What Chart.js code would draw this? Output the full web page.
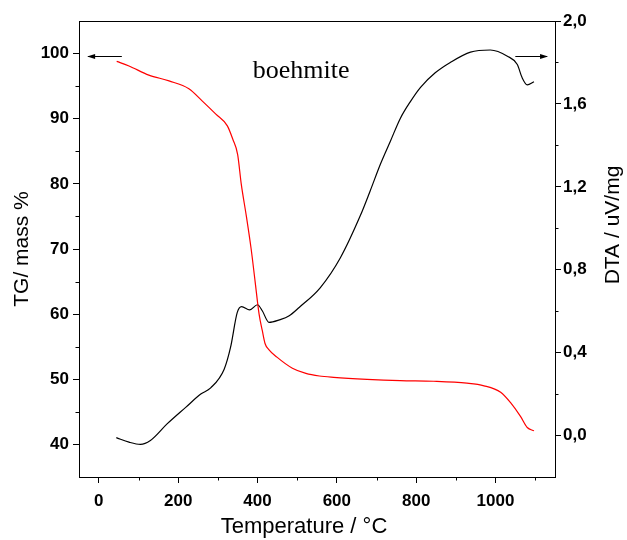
<!DOCTYPE html>
<html>
<head>
<meta charset="utf-8">
<script src="https://cdn.jsdelivr.net/npm/chart.js@4/dist/chart.umd.min.js"></script>
<style>
html,body{margin:0;padding:0;background:#fff;}
canvas{display:block;}
</style>
</head>
<body>
<canvas id="c" width="627" height="540"></canvas>
<script>
// ---- data ----
const tgTemps = [45, 76, 126, 177, 227, 261, 295, 324, 338, 350, 359, 372, 384, 394, 404, 412, 419, 428, 449, 488, 522, 556, 592, 676, 760, 844, 928, 971, 1013, 1038, 1063, 1080, 1097];
const tgMass  = [98.8, 98.1, 96.7, 95.8, 94.6, 92.7, 90.7, 88.9, 86.8, 84.5, 80.0, 75.0, 70.0, 65.0, 60.0, 57.5, 55.5, 54.6, 53.4, 51.7, 50.9, 50.5, 50.3, 50.0, 49.8, 49.7, 49.4, 49.0, 48.0, 46.4, 44.3, 42.6, 42.1];

const dtaTemps = [44, 76, 105, 130, 172, 219, 257, 282, 316, 332, 349, 360, 380, 400, 412, 429, 455, 480, 505, 558, 609, 659, 684, 710, 735, 760, 785, 811, 848, 886, 937, 987, 1030, 1055, 1067, 1080, 1097];
const dtaSignal = [-0.01, -0.032, -0.043, -0.024, 0.056, 0.136, 0.2, 0.23, 0.32, 0.425, 0.594, 0.622, 0.606, 0.631, 0.602, 0.546, 0.558, 0.578, 0.618, 0.713, 0.858, 1.06, 1.18, 1.31, 1.42, 1.53, 1.61, 1.68, 1.75, 1.80, 1.85, 1.86, 1.83, 1.79, 1.727, 1.692, 1.707];

const xMajorTicks = [0, 200, 400, 600, 800, 1000];
const xMinorTicks = [100, 300, 500, 700, 900, 1100];
const tgMajorTicks = [40, 50, 60, 70, 80, 90, 100];
const tgMinorTicks = [45, 55, 65, 75, 85, 95];
const dtaMajorTicks = [0.0, 0.4, 0.8, 1.2, 1.6, 2.0];
const dtaMinorTicks = [0.2, 0.6, 1.0, 1.4, 1.8];

const xTitle = 'Temperature / °C';
const tgTitle = 'TG/ mass %';
const dtaTitle = 'DTA / uV/mg';
const sampleLabel = 'boehmite';

// ---- build chart ----
const tgPoints = tgTemps.map((t, i) => ({x: t, y: tgMass[i]}));
const dtaPoints = dtaTemps.map((t, i) => ({x: t, y: dtaSignal[i]}));

const tickFont = {family: "'Liberation Sans', Arial, sans-serif", size: 17, weight: 'bold'};
const sans = "'Liberation Sans', Arial, sans-serif";

function fixedTicks(list) {
  return function(scale) { scale.ticks = list.map(v => ({value: v})); };
}

const decor = {
  id: 'decor',
  afterDraw(chart) {
    const ctx = chart.ctx;
    const a = chart.chartArea;
    const xs = chart.scales.x, ys = chart.scales.y, y1 = chart.scales.y1;
    ctx.save();
    ctx.strokeStyle = '#000';
    ctx.fillStyle = '#000';
    ctx.lineWidth = 1;
    // top frame line
    ctx.beginPath();
    ctx.moveTo(a.left, a.top + 0.5);
    ctx.lineTo(a.right, a.top + 0.5);
    ctx.stroke();
    // minor ticks
    ctx.beginPath();
    xMinorTicks.forEach(v => {
      const p = Math.round(xs.getPixelForValue(v)) + 0.5;
      ctx.moveTo(p, a.bottom); ctx.lineTo(p, a.bottom + 3.5);
    });
    tgMinorTicks.forEach(v => {
      const p = Math.round(ys.getPixelForValue(v)) + 0.5;
      ctx.moveTo(a.left, p); ctx.lineTo(a.left - 3.5, p);
    });
    dtaMinorTicks.forEach(v => {
      const p = Math.round(y1.getPixelForValue(v)) + 0.5;
      ctx.moveTo(a.right, p); ctx.lineTo(a.right + 3.5, p);
    });
    ctx.stroke();

    // arrows
    function arrow(x0, x1, y) {
      ctx.beginPath();
      ctx.moveTo(x0, y); ctx.lineTo(x1, y); ctx.stroke();
      const dir = Math.sign(x1 - x0);
      ctx.beginPath();
      ctx.moveTo(x1 + dir * 1, y);
      ctx.lineTo(x1 - dir * 7, y - 2.5);
      ctx.lineTo(x1 - dir * 7, y + 2.5);
      ctx.closePath();
      ctx.fill();
    }
    const yl = Math.round(ys.getPixelForValue(99.6)) + 0.5;
    arrow(xs.getPixelForValue(58), xs.getPixelForValue(-27), yl);
    const yr = Math.round(y1.getPixelForValue(1.831)) + 0.5;
    arrow(xs.getPixelForValue(1050), xs.getPixelForValue(1130), yr);

    // sample label
    ctx.font = "26px 'Liberation Serif', 'Times New Roman', serif";
    ctx.textAlign = 'center';
    ctx.textBaseline = 'alphabetic';
    ctx.fillText(sampleLabel, xs.getPixelForValue(510), ys.getPixelForValue(96.3));

    // axis titles
    ctx.textBaseline = 'middle';
    ctx.textAlign = 'center';
    ctx.font = "22px " + sans;
    ctx.fillText(xTitle, 304, 527);
    ctx.font = "21px " + sans;
    ctx.save();
    ctx.translate(22, 249);
    ctx.rotate(-Math.PI / 2);
    ctx.fillText(tgTitle, 0, 0);
    ctx.restore();
    ctx.save();
    ctx.translate(613, 225);
    ctx.rotate(-Math.PI / 2);
    ctx.fillText(dtaTitle, 0, 0);
    ctx.restore();
    ctx.restore();
  }
};

const axisGrid = {display: true, drawOnChartArea: false, drawTicks: true, tickLength: 6, color: '#000', tickColor: '#000', lineWidth: 1};
const axisBorder = {display: true, color: '#000', width: 1};

new Chart(document.getElementById('c'), {
  type: 'scatter',
  data: {
    datasets: [
      {label: 'TG', data: tgPoints, yAxisID: 'y', showLine: true, borderColor: '#ff0000', borderWidth: 1.2, pointRadius: 0, cubicInterpolationMode: 'monotone', fill: false},
      {label: 'DTA', data: dtaPoints, yAxisID: 'y1', showLine: true, borderColor: '#000000', borderWidth: 1.2, pointRadius: 0, cubicInterpolationMode: 'monotone', fill: false}
    ]
  },
  options: {
    responsive: false,
    animation: false,
    devicePixelRatio: 1,
    layout: {padding: {top: 21, left: 0, right: 0, bottom: 0}},
    plugins: {legend: {display: false}, tooltip: {enabled: false}},
    scales: {
      x: {
        type: 'linear', position: 'bottom', min: -50, max: 1150,
        afterBuildTicks: fixedTicks(xMajorTicks),
        afterFit(s) { s.height = 63; s.paddingLeft = 0; s.paddingRight = 0; },
        grid: axisGrid, border: axisBorder,
        ticks: {font: tickFont, color: '#000', padding: 8, maxRotation: 0, autoSkip: false, callback: v => String(v)},
        title: {display: false}
      },
      y: {
        type: 'linear', position: 'left', min: 35, max: 105,
        afterBuildTicks: fixedTicks(tgMajorTicks),
        afterFit(s) { s.width = 79; s.paddingTop = 0; s.paddingBottom = 0; },
        grid: axisGrid, border: axisBorder,
        ticks: {font: tickFont, color: '#000', padding: 4, autoSkip: false, callback: v => String(v)},
        title: {display: false}
      },
      y1: {
        type: 'linear', position: 'right', min: -0.2, max: 2.0,
        afterBuildTicks: fixedTicks(dtaMajorTicks),
        afterFit(s) { s.width = 72; s.paddingTop = 0; s.paddingBottom = 0; },
        grid: axisGrid, border: axisBorder,
        ticks: {font: tickFont, color: '#000', padding: 2, autoSkip: false, callback: v => Number(v).toFixed(1).replace('.', ',')},
        title: {display: false}
      }
    }
  },
  plugins: [decor]
});
</script>
</body>
</html>
